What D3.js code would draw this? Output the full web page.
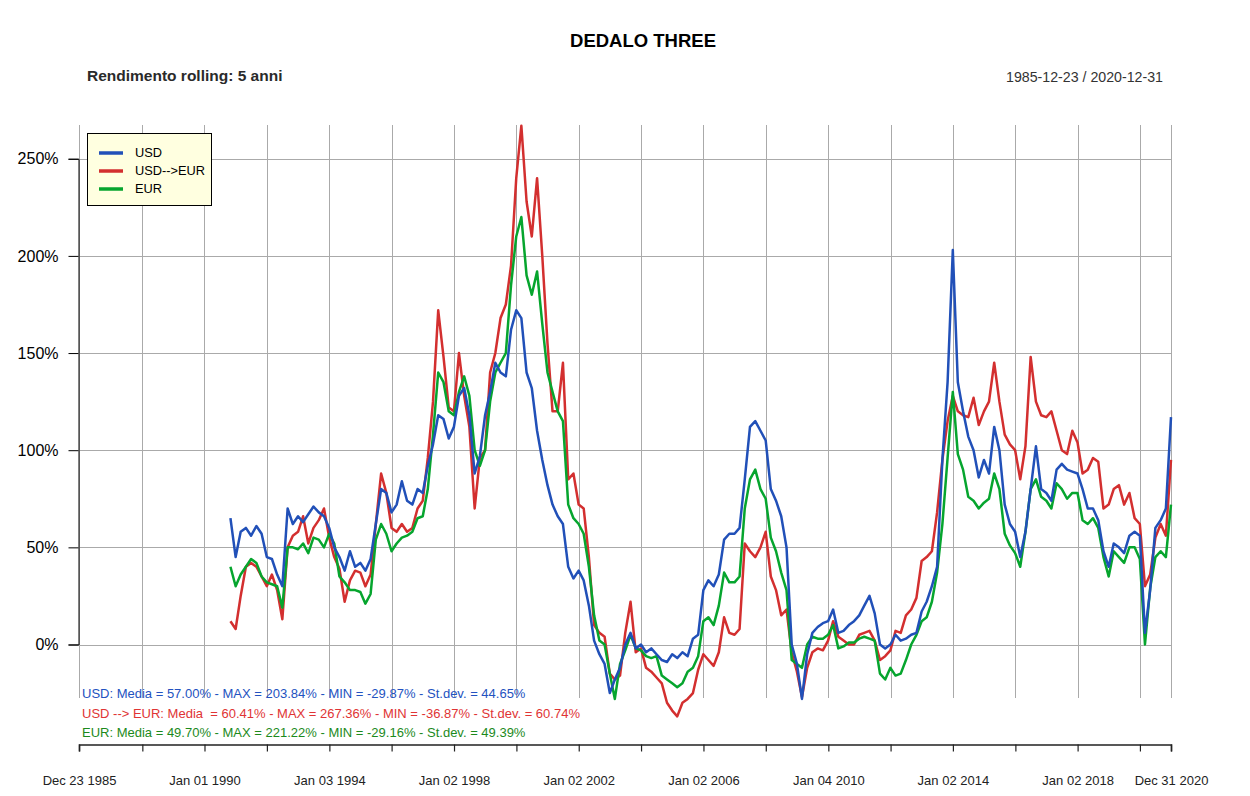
<!DOCTYPE html>
<html><head><meta charset="utf-8">
<script src="https://cdn.jsdelivr.net/npm/d3@7"></script>
<style>body{margin:0;background:#fff} svg{display:block;font-family:"Liberation Sans",Arial,sans-serif}</style>
</head><body><svg id="c" width="1250" height="796"></svg>
<script>
// ---------- DATA ----------
const dates = [
"1990-11",
"1991-01","1991-03","1991-05","1991-07","1991-09","1991-11",
"1992-01","1992-03","1992-05","1992-07","1992-09","1992-11",
"1993-01","1993-03","1993-05","1993-07","1993-09","1993-11",
"1994-01","1994-03","1994-05","1994-07","1994-09","1994-11",
"1995-01","1995-03","1995-05","1995-07","1995-09","1995-11",
"1996-01","1996-03","1996-05","1996-07","1996-09","1996-11",
"1997-01","1997-03","1997-05","1997-07","1997-09","1997-11",
"1998-01","1998-03","1998-05","1998-07","1998-09","1998-11",
"1999-01","1999-03","1999-05","1999-07","1999-09","1999-11",
"2000-01","2000-03","2000-05","2000-07","2000-09","2000-11",
"2001-01","2001-03","2001-05","2001-07","2001-09","2001-11",
"2002-01","2002-03","2002-05","2002-07","2002-09","2002-11",
"2003-01","2003-03","2003-05","2003-07","2003-09","2003-11",
"2004-01","2004-03","2004-05","2004-07","2004-09","2004-11",
"2005-01","2005-03","2005-05","2005-07","2005-09","2005-11",
"2006-01","2006-03","2006-05","2006-07","2006-09","2006-11",
"2007-01","2007-03","2007-05","2007-07","2007-09","2007-11",
"2008-01","2008-03","2008-05","2008-07","2008-09","2008-11",
"2009-01","2009-03","2009-05","2009-07","2009-09","2009-11",
"2010-01","2010-03","2010-05","2010-07","2010-09","2010-11",
"2011-01","2011-03","2011-05","2011-07","2011-09","2011-11",
"2012-01","2012-03","2012-05","2012-07","2012-09","2012-11",
"2013-01","2013-03","2013-05","2013-07","2013-09","2013-11",
"2014-01","2014-03","2014-05","2014-07","2014-09","2014-11",
"2015-01","2015-03","2015-05","2015-07","2015-09","2015-11",
"2016-01","2016-03","2016-05","2016-07","2016-09","2016-11",
"2017-01","2017-03","2017-05","2017-07","2017-09","2017-11",
"2018-01","2018-03","2018-05","2018-07","2018-09","2018-11",
"2019-01","2019-03","2019-05","2019-07","2019-09","2019-11",
"2020-01","2020-03","2020-05","2020-07","2020-09","2020-11",
"2020-12-31"
];

// USD (%)
const usd = [
65,45,58,60,56,61,57,45,44,36,
30,70,62,66,63,67,71,68,66,60,
50,45,38,48,40,42,38,44,62,80,
78,68,72,84,74,72,80,78,92,103,
118,116,106,112,128,132,118,88,97,118,
130,145,140,138,162,172,168,140,132,110,
95,82,72,66,62,40,34,38,33,20,
2,-5,-10,-25,-18,-12,0,6,-2,0,
-4,-2,-5,-8,-9,-5,-7,-4,-6,3,
5,28,33,30,36,54,57,57,60,85,
112,115,110,105,80,74,66,50,0,-10,
-28,-5,6,9,11,12,18,6,7,10,
12,15,20,25,16,0,-2,0,5,2,
3,5,6,17,22,30,40,95,135,203,
135,120,107,100,86,95,88,112,100,72,
62,58,45,58,80,102,80,78,74,90,
93,90,89,88,80,70,70,64,48,40,
52,50,47,56,58,56,6,28,60,64,
70,117
];

// USD --> EUR (%)
const usdEur = [
12,8,25,40,42,40,35,30,36,28,
13,50,56,58,66,52,60,64,70,55,
45,39,22,33,38,37,30,36,62,88,
78,60,58,62,58,60,70,74,96,125,
172,148,122,120,150,128,112,70,96,100,
140,150,168,175,195,240,267,228,210,240,
200,155,120,120,145,85,88,72,70,45,
10,6,4,-15,-18,-16,6,22,-4,-2,
-12,-14,-17,-20,-30,-34,-37,-30,-28,-25,
-13,-5,-8,-11,-4,14,6,5,8,52,
48,45,50,58,35,28,15,18,-4,-14,
-27,-12,-4,-2,-3,2,12,4,2,0,
0,5,6,7,2,-8,-6,-3,7,6,
15,18,24,43,45,48,68,95,115,128,
120,118,117,127,113,120,125,145,125,108,
103,100,85,102,148,125,118,117,120,110,
100,98,110,104,88,90,96,94,70,72,
80,82,72,78,65,62,30,36,55,62,
56,95
];

// EUR (%)
const eur = [
40,30,36,40,44,42,35,32,31,30,
19,50,50,49,52,47,55,54,50,57,
52,35,32,28,28,27,21,26,54,62,
57,48,52,55,56,58,65,66,80,108,
140,135,120,118,130,138,128,100,92,100,
125,140,145,150,185,210,220,190,180,192,
165,140,130,120,115,72,65,62,57,40,
15,2,0,-15,-28,-10,-3,5,-2,-3,
-6,-7,-6,-16,-18,-20,-22,-20,-14,-12,
-6,12,14,10,20,37,32,32,35,70,
85,90,80,75,55,48,37,28,-8,-10,
-12,0,4,3,3,5,10,-2,-1,1,
1,3,4,3,2,-15,-18,-12,-16,-15,
-8,0,5,12,14,22,37,62,96,130,
98,90,76,74,70,73,75,88,80,57,
51,47,40,58,80,85,76,74,70,83,
80,75,78,78,64,62,65,60,45,35,
48,45,42,50,50,44,0,29,45,48,
45,72
];

const seriesNames = ["USD", "USD-->EUR", "EUR"];
const yTicks = [0, 50, 100, 150, 200, 250];
const xLabelDates = ["1985-12-23","1990-01-01","1994-01-03","1998-01-02","2002-01-02","2006-01-02","2010-01-04","2014-01-02","2018-01-02","2020-12-31"];
const xLabels = ["Dec 23 1985","Jan 01 1990","Jan 03 1994","Jan 02 1998","Jan 02 2002","Jan 02 2006","Jan 04 2010","Jan 02 2014","Jan 02 2018","Dec 31 2020"];
const xMinorDates = ["1988-01-04","1992-01-02","1996-01-02","2000-01-03","2004-01-02","2008-01-02","2012-01-03","2016-01-04","2020-01-02"];
const statsTexts = [
  "USD: Media = 57.00% - MAX = 203.84% - MIN = -29.87% - St.dev. = 44.65%",
  "USD --> EUR: Media  = 60.41% - MAX = 267.36% - MIN = -36.87% - St.dev. = 60.74%",
  "EUR: Media = 49.70% - MAX = 221.22% - MIN = -29.16% - St.dev. = 49.39%"
];
const titleText = "DEDALO THREE";
const subtitleText = "Rendimento rolling: 5 anni";
const rangeText = "1985-12-23 / 2020-12-31";

// ---------- DRAW ----------
const lineColors = ["#2150B8", "#D32F2F", "#06A52E"];
const textColors = ["#2352C0", "#E03434", "#1C8A1C"];
const pYM = d3.timeParse("%Y-%m"), pYMD = d3.timeParse("%Y-%m-%d");
const parse = s => s.length === 7 ? pYM(s) : pYMD(s);
const D = dates.map(parse);

const svg = d3.select("#c");
const x = d3.scaleTime().domain([pYMD("1985-12-23"), pYMD("2020-12-31")]).range([79, 1171]);
const y = d3.scaleLinear().domain([0, 250]).range([644.5, 158.75]);

const gridColor = "#AAAAAA";
// vertical gridlines
const allTickDates = xLabelDates.concat(xMinorDates).map(pYMD).sort((a,b)=>a-b);
svg.append("g").selectAll("line").data(allTickDates).join("line")
  .attr("x1", d => Math.round(x(d)) + 0.5).attr("x2", d => Math.round(x(d)) + 0.5)
  .attr("y1", 125).attr("y2", 698)
  .attr("stroke", gridColor).attr("stroke-width", 1);
// horizontal gridlines
svg.append("g").selectAll("line").data(yTicks).join("line")
  .attr("x1", 79).attr("x2", 1171)
  .attr("y1", d => Math.round(y(d)) + 0.5).attr("y2", d => Math.round(y(d)) + 0.5)
  .attr("stroke", gridColor).attr("stroke-width", 1);

// y axis
const yAxis = d3.axisLeft(y).tickValues(yTicks).tickFormat(d => d + "%").tickSize(10).tickPadding(10);
const gy = svg.append("g").attr("transform", "translate(78.5,0)").call(yAxis);
gy.selectAll("text").attr("font-size", 16).attr("fill", "#000").attr("font-family", "Liberation Sans, Arial, sans-serif");
gy.selectAll("line").attr("stroke", "#000");
gy.select(".domain").attr("stroke", "#000");

// x axis
const xAxis = d3.axisBottom(x).tickValues(allTickDates).tickSize(7)
  .tickFormat(d => {
    const i = xLabelDates.map(pYMD).findIndex(t => +t === +d);
    return i >= 0 ? xLabels[i] : "";
  }).tickPadding(24);
const gx = svg.append("g").attr("transform", "translate(0,744.5)").call(xAxis);
gx.select(".domain").attr("stroke", "#222").attr("stroke-width", 1.6);
gx.selectAll("line").attr("stroke", "#222").attr("stroke-width", 1.2);
gx.selectAll("text").attr("font-size", 13).attr("fill", "#222").attr("font-family", "Liberation Sans, Arial, sans-serif");

// series lines
const series = [usd, usdEur, eur];
const order = [1, 2, 0];
const lineGen = d3.line().x((d, i) => x(D[i])).y(d => y(d));
order.forEach(si => {
  svg.append("path").datum(series[si])
    .attr("fill", "none").attr("stroke", lineColors[si])
    .attr("stroke-width", 2.5).attr("stroke-linejoin", "round")
    .attr("d", lineGen);
});

// titles
svg.append("text").attr("x", 643).attr("y", 47).attr("text-anchor", "middle")
  .attr("font-size", 18.5).attr("font-weight", "bold").attr("fill", "#000").text(titleText);
svg.append("text").attr("x", 87).attr("y", 81)
  .attr("font-size", 15.5).attr("font-weight", "bold").attr("fill", "#2a2a2a").text(subtitleText);
svg.append("text").attr("x", 1163).attr("y", 82).attr("text-anchor", "end")
  .attr("font-size", 14.2).attr("fill", "#333").text(rangeText);

// legend
const lg = svg.append("g");
lg.append("rect").attr("x", 87.5).attr("y", 133.5).attr("width", 124).attr("height", 72)
  .attr("fill", "#FFFFE0").attr("stroke", "#000").attr("stroke-width", 1);
seriesNames.forEach((n, i) => {
  const yy = 153 + i * 18;
  lg.append("line").attr("x1", 99).attr("x2", 123).attr("y1", yy).attr("y2", yy)
    .attr("stroke", lineColors[i]).attr("stroke-width", 3.5);
  lg.append("text").attr("x", 135).attr("y", yy).attr("dy", "0.35em")
    .attr("font-size", 12.8).attr("fill", "#000").text(n);
});

// stats
statsTexts.forEach((t, i) => {
  svg.append("text").attr("x", 82).attr("y", 698 + i * 19.5)
    .attr("font-size", 13).attr("fill", textColors[i]).style("white-space", "pre").text(t);
});
</script></body></html>
